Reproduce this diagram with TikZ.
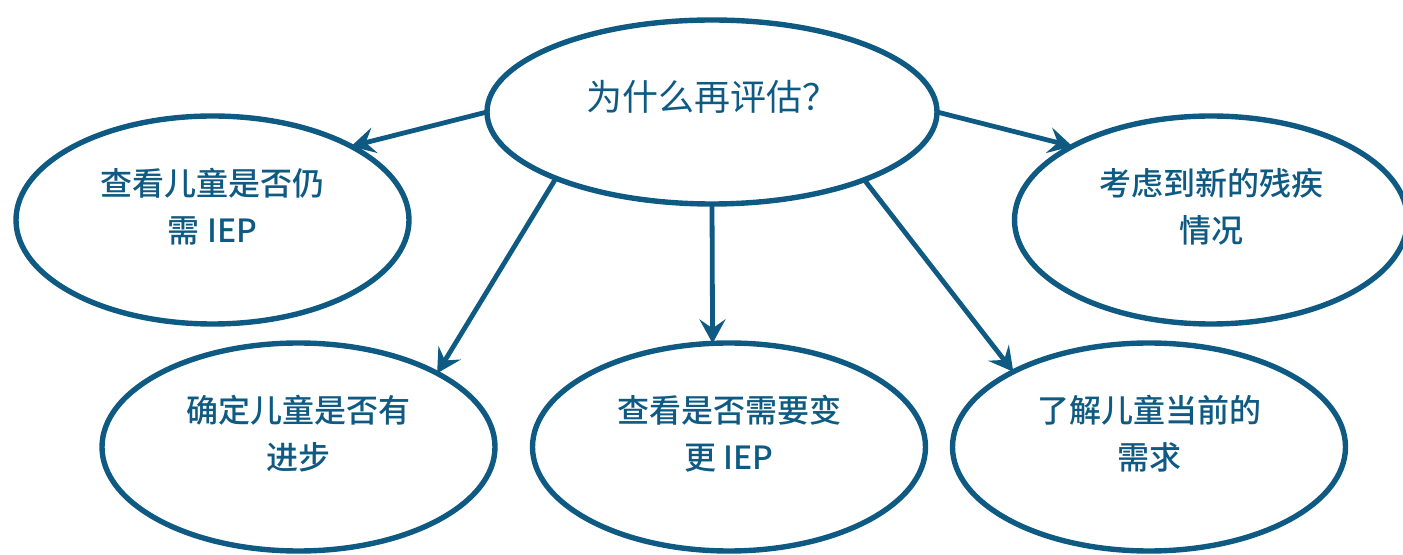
\documentclass[tikz,border=0pt]{standalone}
\usepackage{fontspec}
\setmainfont{Noto Sans CJK SC}
\newfontfamily\heavycjk{Noto Sans CJK SC}[UprightFont={* Medium}]
\usepackage{xcolor}
\usetikzlibrary{shapes.geometric, arrows.meta}
\definecolor{iepblue}{HTML}{0E5A82}

\begin{document}
\begin{tikzpicture}[x=0.5pt, y=-0.5pt,
    bubble/.style={ellipse, draw=iepblue, line width=2.7pt, inner sep=0pt, outer sep=0pt,
        minimum width=196.5pt, minimum height=104pt},
    bubbletext/.style={text=iepblue, align=center, font=\heavycjk\fontsize{16}{23.5}\selectfont},
    link/.style={draw=iepblue, line width=2.4pt, -{Stealth[length=12pt, width=13pt, inset=4.5pt]}}]
    \useasboundingbox (0,0) rectangle (1403,555);

    % Draw central question
    \node[bubble, minimum width=225pt, minimum height=92pt] (why) at (712,112) {};
    \node[bubbletext, font=\fontsize{18}{24}\selectfont] (why-t) at ([yshift=7.5pt]why.center) {为什么再评估？};

    % Draw reasons
    \node[bubble] (still) at (212.5,220) {};
    \node[bubbletext] (still-t) at ([yshift=6.75pt]still.center) {查看儿童是否仍\\需 IEP};

    \node[bubble] (newdis) at (1211,220) {};
    \node[bubbletext] (newdis-t) at ([yshift=6.75pt]newdis.center) {考虑到新的残疾\\情况};

    \node[bubble] (progress) at (298.5,447) {};
    \node[bubbletext] (progress-t) at ([yshift=6.75pt]progress.center) {确定儿童是否有\\进步};

    \node[bubble] (change) at (729,447) {};
    \node[bubbletext] (change-t) at ([yshift=6.75pt]change.center) {查看是否需要变\\更 IEP};

    \node[bubble] (needs) at (1149,447) {};
    \node[bubbletext] (needs-t) at ([yshift=6.75pt]needs.center) {了解儿童当前的\\需求};

    % Draw arrows
    \draw[link] (why.west) -- (still.28);
    \draw[link] (why.203.4) -- (progress.28.4);
    \draw[link] (why.south) -- (change.99.3);
    \draw[link] (why.336.8) -- (needs.151.5);
    \draw[link] (why.east) -- (newdis.152.3);
\end{tikzpicture}
\end{document}
